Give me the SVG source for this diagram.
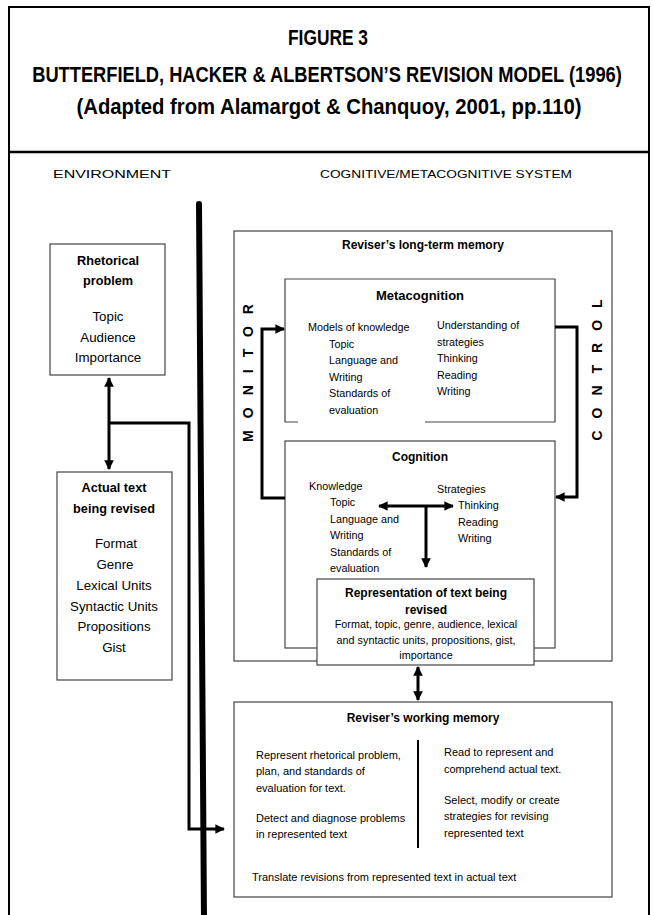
<svg xmlns="http://www.w3.org/2000/svg" width="653" height="915" viewBox="0 0 653 915">
<style>
.title{font-family:"Liberation Sans",Arial,sans-serif;font-weight:bold;font-size:22px;fill:#000;text-anchor:middle}
.hdr{font-family:"Liberation Sans",Arial,sans-serif;font-size:11.5px;fill:#000;text-anchor:middle}
.bt{font-family:"Liberation Sans",Arial,sans-serif;font-weight:bold;font-size:12px;fill:#000;text-anchor:middle}
.bl{font-family:"Liberation Sans",Arial,sans-serif;font-weight:bold;font-size:12.7px;fill:#000;text-anchor:middle}
.rl{font-family:"Liberation Sans",Arial,sans-serif;font-size:13.3px;fill:#000;text-anchor:middle}
.t{font-family:"Liberation Sans",Arial,sans-serif;font-size:10.8px;fill:#000}
.tc{font-family:"Liberation Sans",Arial,sans-serif;font-size:10.8px;fill:#000;text-anchor:middle}
.w{font-family:"Liberation Sans",Arial,sans-serif;font-size:11px;fill:#000}
.side{font-family:"Liberation Sans",Arial,sans-serif;font-weight:bold;font-size:14px;fill:#000;text-anchor:middle;letter-spacing:12px}
.box{fill:#fff;stroke:#444;stroke-width:1.2}
.ln{fill:none;stroke:#000;stroke-width:3}
</style>
<defs>
<marker id="ah" viewBox="0 0 10 10" refX="9" refY="5" markerWidth="3.2" markerHeight="3.2" orient="auto-start-reverse" markerUnits="strokeWidth">
<path d="M0,0 L10,5 L0,10 z" fill="#000"/>
</marker>
</defs>

<g id="frame">
<rect x="9" y="7" width="640" height="920" fill="#fff" stroke="#000" stroke-width="2"/>
<line x1="9" y1="152" x2="649" y2="152" stroke="#000" stroke-width="2.5"/>
</g>

<g id="title">
<text class="title" transform="translate(328,45) scale(0.8,1)" x="0" y="0" textLength="100" lengthAdjust="spacingAndGlyphs">FIGURE 3</text>
<text class="title" transform="translate(327,82) scale(0.8,1)" x="0" y="0" textLength="737" lengthAdjust="spacingAndGlyphs">BUTTERFIELD, HACKER &amp; ALBERTSON’S REVISION MODEL (1996)</text>
<text class="title" transform="translate(329,114) scale(0.85,1)" x="0" y="0" textLength="594" lengthAdjust="spacingAndGlyphs">(Adapted from Alamargot &amp; Chanquoy, 2001, pp.110)</text>
</g>

<g id="headers">
<text class="hdr" x="112" y="178" textLength="118" lengthAdjust="spacingAndGlyphs">ENVIRONMENT</text>
<text class="hdr" x="446" y="178" textLength="252" lengthAdjust="spacingAndGlyphs">COGNITIVE/METACOGNITIVE SYSTEM</text>
</g>

<g id="boundary">
<line x1="199" y1="204" x2="204" y2="920" stroke="#000" stroke-width="6" stroke-linecap="round"/>
</g>

<g id="rhetorical">
<rect class="box" x="50" y="244" width="115" height="131"/>
<text class="bl" x="108" y="265">Rhetorical</text>
<text class="bl" x="108" y="285">problem</text>
<text class="rl" x="108" y="321">Topic</text>
<text class="rl" x="108" y="342">Audience</text>
<text class="rl" x="108" y="362">Importance</text>
</g>

<g id="actual-text">
<rect class="box" x="57" y="472" width="115" height="208"/>
<text class="bl" x="114" y="492">Actual text</text>
<text class="bl" x="114" y="513">being revised</text>
<text class="rl" x="116" y="548">Format</text>
<text class="rl" x="115" y="569">Genre</text>
<text class="rl" x="114" y="590">Lexical Units</text>
<text class="rl" x="114" y="611">Syntactic Units</text>
<text class="rl" x="114" y="631">Propositions</text>
<text class="rl" x="114" y="652">Gist</text>
</g>

<g id="ltm">
<rect class="box" x="234" y="231" width="378" height="430"/>
<text class="bt" x="423" y="249">Reviser’s long-term memory</text>
</g>

<g id="metacognition">
<path d="M298,422 H285 V279 H555 V422 H425" fill="#fff" stroke="#444" stroke-width="1.2"/>
<text class="bt" x="420" y="300" style="font-size:13px">Metacognition</text>
<text class="t" x="308" y="331">Models of knowledge</text>
<text class="t" x="329" y="348">Topic</text>
<text class="t" x="329" y="364">Language and</text>
<text class="t" x="329" y="381">Writing</text>
<text class="t" x="329" y="397">Standards of</text>
<text class="t" x="329" y="414">evaluation</text>
<text class="t" x="437" y="329">Understanding of</text>
<text class="t" x="437" y="346">strategies</text>
<text class="t" x="437" y="362">Thinking</text>
<text class="t" x="437" y="379">Reading</text>
<text class="t" x="437" y="395">Writing</text>
</g>

<g id="cognition">
<rect class="box" x="285" y="441" width="270" height="207"/>
<text class="bt" x="420" y="461">Cognition</text>
<text class="t" x="309" y="490">Knowledge</text>
<text class="t" x="330" y="506">Topic</text>
<text class="t" x="330" y="523">Language and</text>
<text class="t" x="330" y="539">Writing</text>
<text class="t" x="330" y="556">Standards of</text>
<text class="t" x="330" y="572">evaluation</text>
<text class="t" x="437" y="493">Strategies</text>
<text class="t" x="458" y="509">Thinking</text>
<text class="t" x="458" y="526">Reading</text>
<text class="t" x="458" y="542">Writing</text>
</g>

<g id="representation">
<rect class="box" x="317" y="579" width="217" height="86"/>
<text class="bt" x="426" y="597">Representation of text being</text>
<text class="bt" x="426" y="614">revised</text>
<text class="tc" x="426" y="628">Format, topic, genre, audience, lexical</text>
<text class="tc" x="426" y="644">and syntactic units, propositions, gist,</text>
<text class="tc" x="426" y="659">importance</text>
</g>

<g id="working-memory">
<rect class="box" x="234" y="702" width="378" height="195"/>
<text class="bt" x="423" y="722">Reviser’s working memory</text>
<text class="w" x="256" y="759">Represent rhetorical problem,</text>
<text class="w" x="256" y="775">plan, and standards of</text>
<text class="w" x="256" y="792">evaluation for text.</text>
<text class="w" x="256" y="822">Detect and diagnose problems</text>
<text class="w" x="256" y="838">in represented text</text>
<text class="w" x="444" y="756">Read to represent and</text>
<text class="w" x="444" y="773">comprehend actual text.</text>
<text class="w" x="444" y="804">Select, modify or create</text>
<text class="w" x="444" y="820">strategies for revising</text>
<text class="w" x="444" y="837">represented text</text>
<line x1="418" y1="740" x2="418" y2="848" stroke="#000" stroke-width="2"/>
<text class="w" x="252" y="881">Translate revisions from represented text in actual text</text>
</g>

<g id="monitor-label">
<text class="side" transform="translate(253,367) rotate(-90)">MONITOR</text>
</g>
<g id="control-label">
<text class="side" transform="translate(602,364) rotate(-90)">CONTROL</text>
</g>

<g id="connectors">
<line class="ln" x1="109" y1="378" x2="109" y2="469" marker-start="url(#ah)" marker-end="url(#ah)"/>
<path class="ln" d="M109,423 H189 V829 H224" marker-end="url(#ah)"/>
<path class="ln" d="M285,498 H262 V329 H284" marker-end="url(#ah)"/>
<path class="ln" d="M555,327 H577 V497 H556" marker-end="url(#ah)"/>
<line class="ln" x1="379" y1="506" x2="453" y2="506" marker-start="url(#ah)" marker-end="url(#ah)"/>
<line class="ln" x1="426" y1="506" x2="426" y2="567" marker-end="url(#ah)"/>
<line class="ln" x1="418" y1="667" x2="418" y2="700" marker-start="url(#ah)" marker-end="url(#ah)"/>
</g>
</svg>
